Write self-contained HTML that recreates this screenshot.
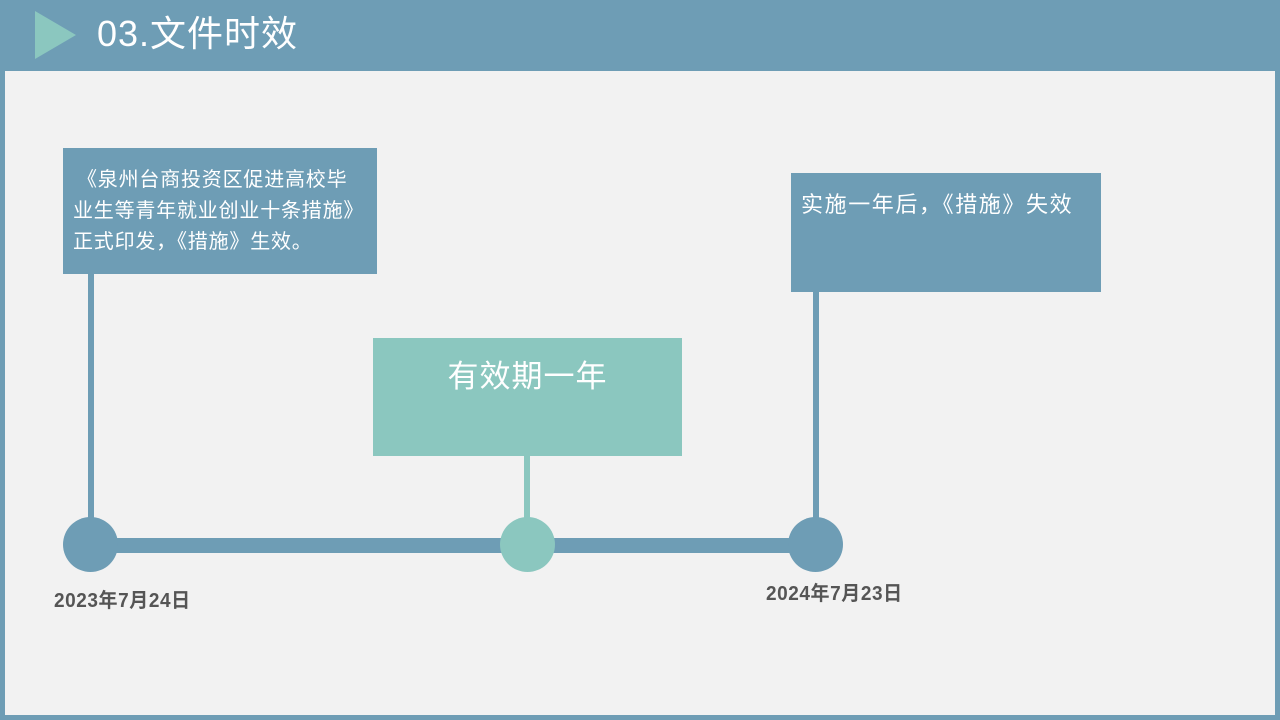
<!DOCTYPE html>
<html><head><meta charset="utf-8"><style>
*{margin:0;padding:0;box-sizing:border-box}
body{width:1280px;height:720px;background:#6e9db5;position:relative;overflow:hidden;font-family:"Liberation Sans","Noto Sans CJK SC",sans-serif}
.abs{position:absolute;white-space:nowrap}
</style></head><body>
<div class="abs" style="left:5px;top:71px;width:1270px;height:644px;background:#f2f2f2"></div>
<div class="abs" style="left:35px;top:11px;width:0;height:0;border-top:24px solid transparent;border-bottom:24px solid transparent;border-left:41px solid #8bc7bf"></div>
<div class="abs" style="left:97px;top:10px;color:#fff;font-size:36px;line-height:48px;letter-spacing:1px">03.文件时效</div>

<div class="abs" style="left:88px;top:270px;width:6px;height:260px;background:#6e9db5"></div>
<div class="abs" style="left:813px;top:290px;width:6px;height:240px;background:#6e9db5"></div>
<div class="abs" style="left:524px;top:454px;width:6px;height:76px;background:#8bc7bf"></div>
<div class="abs" style="left:90px;top:538px;width:730px;height:15px;background:#6e9db5"></div>
<div class="abs" style="left:63px;top:517px;width:55px;height:55px;border-radius:50%;background:#6e9db5"></div>
<div class="abs" style="left:500px;top:517px;width:55px;height:55px;border-radius:50%;background:#8bc7bf"></div>
<div class="abs" style="left:788px;top:517px;width:55px;height:55px;border-radius:50%;background:#6e9db5"></div>

<div class="abs" style="left:63px;top:148px;width:314px;height:126px;background:#6e9db5;color:#fff;font-size:20px;line-height:31px;padding:17px 0 0 10px;letter-spacing:0.8px"><span style="margin-left:4px">《泉州台商投资区促进高校毕</span><br>业生等青年就业创业十条措施》<br>正式印发，《措施》生效。</div>
<div class="abs" style="left:791px;top:173px;width:310px;height:119px;background:#6e9db5;color:#fff;font-size:22px;line-height:30px;padding:17px 0 0 10px;letter-spacing:1.6px">实施一年后，《措施》失效</div>
<div class="abs" style="left:373px;top:338px;width:309px;height:118px;background:#8bc7bf;color:#fff;font-size:31px;line-height:40px;text-align:center;padding-top:19px;letter-spacing:1px">有效期一年</div>

<div class="abs" style="left:54px;top:584px;color:#555;font-size:20px;letter-spacing:0.6px;font-weight:bold;transform:scaleX(0.95);transform-origin:left">2023年7月24日</div>
<div class="abs" style="left:766px;top:577px;color:#555;font-size:20px;letter-spacing:0.6px;font-weight:bold;transform:scaleX(0.95);transform-origin:left">2024年7月23日</div>
</body></html>
